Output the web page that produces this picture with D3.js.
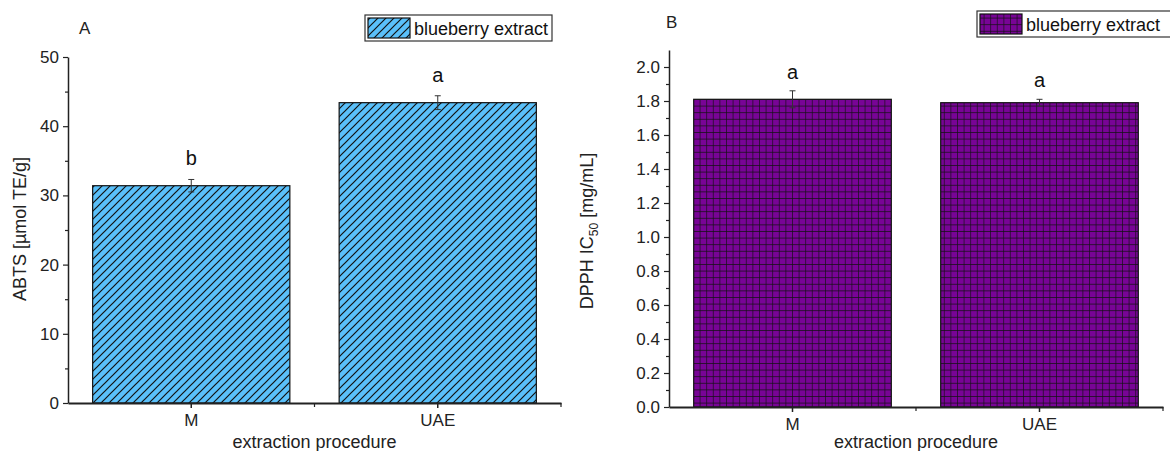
<!DOCTYPE html>
<html>
<head>
<meta charset="utf-8">
<script src="https://cdn.jsdelivr.net/npm/d3@7"></script>
<style>
  body { margin: 0; background: #fff; }
  svg { font-family: "Liberation Sans", Arial, sans-serif; }
</style>
</head>
<body>
<div class="charts"></div>
<script>
// data
var categories = ["M", "UAE"];
var abtsValues = [31.4, 43.4];
var abtsErrors = [0.9, 1.0];
var abtsLetters = ["b", "a"];
var dpphValues = [1.81, 1.79];
var dpphErrors = [0.05, 0.02];
var dpphLetters = ["a", "a"];
var abtsTicks = [0, 10, 20, 30, 40, 50];
var dpphTicks = [0, 0.2, 0.4, 0.6, 0.8, 1.0, 1.2, 1.4, 1.6, 1.8, 2.0];

var W = 1170, H = 451;

var svg = d3.select("div.charts")
            .append("svg")
            .attr("width", W)
            .attr("height", H);

var defs = svg.append("defs");

// diagonal hatch for panel A
var hatch = defs.append("pattern")
    .attr("id", "hatch")
    .attr("patternUnits", "userSpaceOnUse")
    .attr("width", 8).attr("height", 8);
hatch.append("rect").attr("width", 8).attr("height", 8).attr("fill", "#5ac0fa");
hatch.append("path")
    .attr("d", "M-2,2 L2,-2 M0,8 L8,0 M6,10 L10,6")
    .attr("stroke", "#111").attr("stroke-width", 1.2);

// grid for panel B
var grid = defs.append("pattern")
    .attr("id", "grid")
    .attr("patternUnits", "userSpaceOnUse")
    .attr("width", 6.6).attr("height", 6.6);
grid.append("rect").attr("width", 6.6).attr("height", 6.6).attr("fill", "#780496");
grid.append("path")
    .attr("d", "M0,0 L6.6,0 M0,0 L0,6.6")
    .attr("stroke", "#111").attr("stroke-width", 1.3);

function drawPanel(cfg) {
  var g = svg.append("g");

  var x = d3.scaleBand()
      .domain(categories)
      .range([cfg.left, cfg.right])
      .paddingInner(0.2)
      .paddingOuter(0.1);

  var y = d3.scaleLinear()
      .domain(cfg.domain)
      .range([cfg.bottom, cfg.top]);

  // bars
  g.selectAll(".bar")
      .data(cfg.values)
      .enter()
      .append("rect")
      .attr("x", function(d, i) { return x(categories[i]); })
      .attr("y", function(d) { return y(d); })
      .attr("width", x.bandwidth())
      .attr("height", function(d) { return y(0) - y(d); })
      .attr("fill", "url(#" + cfg.pattern + ")")
      .attr("stroke", "#111")
      .attr("stroke-width", 1.2);

  // error bars
  var cx = function(i) { return x(categories[i]) + x.bandwidth() / 2; };
  var eb = g.selectAll(".err")
      .data(cfg.values)
      .enter()
      .append("g")
      .attr("stroke", "#333")
      .attr("stroke-width", 1);
  eb.append("line")
      .attr("x1", function(d, i) { return cx(i); })
      .attr("x2", function(d, i) { return cx(i); })
      .attr("y1", function(d, i) { return y(d + cfg.errors[i]); })
      .attr("y2", function(d, i) { return y(d - cfg.errors[i]); });
  eb.append("line")
      .attr("x1", function(d, i) { return cx(i) - 3; })
      .attr("x2", function(d, i) { return cx(i) + 3; })
      .attr("y1", function(d, i) { return y(d + cfg.errors[i]); })
      .attr("y2", function(d, i) { return y(d + cfg.errors[i]); });
  eb.append("line")
      .attr("x1", function(d, i) { return cx(i) - 3; })
      .attr("x2", function(d, i) { return cx(i) + 3; })
      .attr("y1", function(d, i) { return y(d - cfg.errors[i]); })
      .attr("y2", function(d, i) { return y(d - cfg.errors[i]); });

  // significance letters
  g.selectAll(".letter")
      .data(cfg.values)
      .enter()
      .append("text")
      .attr("x", function(d, i) { return cx(i); })
      .attr("y", function(d, i) { return y(d + cfg.errors[i]) - cfg.letterGap; })
      .attr("text-anchor", "middle")
      .attr("font-size", 20)
      .attr("fill", "#111")
      .text(function(d, i) { return cfg.letters[i]; });

  // y axis (major + minor ticks)
  var yMinor = g.append("g")
      .attr("transform", "translate(" + cfg.left + ",0)")
      .call(d3.axisLeft(y).tickValues(cfg.minor).tickSize(3).tickFormat(""));
  yMinor.select(".domain").remove();
  var yAxis = g.append("g")
      .attr("transform", "translate(" + cfg.left + ",0)")
      .call(d3.axisLeft(y).tickValues(cfg.ticks).tickSize(5).tickPadding(4).tickFormat(cfg.fmt).tickSizeOuter(0));
  yAxis.selectAll("text").attr("font-size", 17).attr("fill", "#222")
      .attr("font-family", "Liberation Sans, Arial, sans-serif");
  g.selectAll(".tick line").attr("stroke", "#222").attr("stroke-width", 1.2);
  yAxis.select(".domain").attr("stroke", "#222").attr("stroke-width", 1.5);

  // x axis
  var xAxis = g.append("g")
      .attr("transform", "translate(0," + cfg.bottom + ")")
      .call(d3.axisBottom(x).tickSize(5).tickPadding(6).tickSizeOuter(0));
  xAxis.selectAll("text").attr("font-size", 17).attr("fill", "#222")
      .attr("font-family", "Liberation Sans, Arial, sans-serif");
  xAxis.selectAll(".tick line").attr("stroke", "#222").attr("stroke-width", 1.5);
  xAxis.select(".domain").attr("stroke", "#222").attr("stroke-width", 2);
  // minor tick between categories
  xAxis.append("line")
      .attr("x1", x.step() + cfg.left).attr("x2", x.step() + cfg.left)
      .attr("y1", 0).attr("y2", 4)
      .attr("stroke", "#222").attr("stroke-width", 1.2);
  xAxis.append("line")
      .attr("x1", cfg.right).attr("x2", cfg.right)
      .attr("y1", 0).attr("y2", 4)
      .attr("stroke", "#222").attr("stroke-width", 1.2);

  // axis titles
  g.append("text")
      .attr("x", (cfg.left + cfg.right) / 2)
      .attr("y", cfg.xTitleY)
      .attr("text-anchor", "middle")
      .attr("font-size", 18)
      .attr("fill", "#222")
      .text("extraction procedure");

  var yt = g.append("text")
      .attr("transform", "translate(" + cfg.yTitleX + "," + cfg.yTitleY + ")rotate(-90)")
      .attr("text-anchor", "middle")
      .attr("font-size", 18)
      .attr("fill", "#222");
  cfg.yTitle(yt);

  // panel label
  g.append("text")
      .attr("x", cfg.labelX).attr("y", cfg.labelY)
      .attr("font-size", 17).attr("fill", "#222")
      .text(cfg.label);

  // legend
  var lg = g.append("g").attr("transform", "translate(" + cfg.legX + "," + cfg.legY + ")");
  lg.append("rect")
      .attr("width", cfg.legW).attr("height", 26)
      .attr("fill", "#fff").attr("stroke", "#333").attr("stroke-width", 1.2);
  lg.append("rect")
      .attr("x", 3).attr("y", 3).attr("width", 42).attr("height", 20)
      .attr("fill", "url(#" + cfg.pattern + ")")
      .attr("stroke", "#111").attr("stroke-width", 1.2);
  lg.append("text")
      .attr("x", 49).attr("y", 20)
      .attr("font-size", 18).attr("fill", "#111")
      .text("blueberry extract");
}

drawPanel({
  left: 68, right: 561, top: 57, bottom: 403,
  domain: [0, 50],
  values: abtsValues, errors: abtsErrors, letters: abtsLetters,
  ticks: abtsTicks,
  minor: d3.range(5, 50, 10),
  fmt: d3.format("d"),
  pattern: "hatch",
  letterGap: 14,
  xTitleY: 448,
  yTitleX: 26, yTitleY: 229,
  yTitle: function(t) { t.text("ABTS [µmol TE/g]"); },
  label: "A", labelX: 79, labelY: 34,
  legX: 365, legY: 15, legW: 187
});

drawPanel({
  left: 669, right: 1163, top: 50, bottom: 407,
  domain: [0, 2.1],
  values: dpphValues, errors: dpphErrors, letters: dpphLetters,
  ticks: dpphTicks,
  minor: d3.range(0.1, 2.1, 0.2),
  fmt: d3.format(".1f"),
  pattern: "grid",
  letterGap: 12,
  xTitleY: 448,
  yTitleX: 593, yTitleY: 231,
  yTitle: function(t) {
    t.append("tspan").text("DPPH IC");
    t.append("tspan").attr("font-size", 12).attr("dy", 5).text("50");
    t.append("tspan").attr("dy", -5).text(" [mg/mL]");
  },
  label: "B", labelX: 666, labelY: 28,
  legX: 977, legY: 11, legW: 200
});
</script>
</body>
</html>
